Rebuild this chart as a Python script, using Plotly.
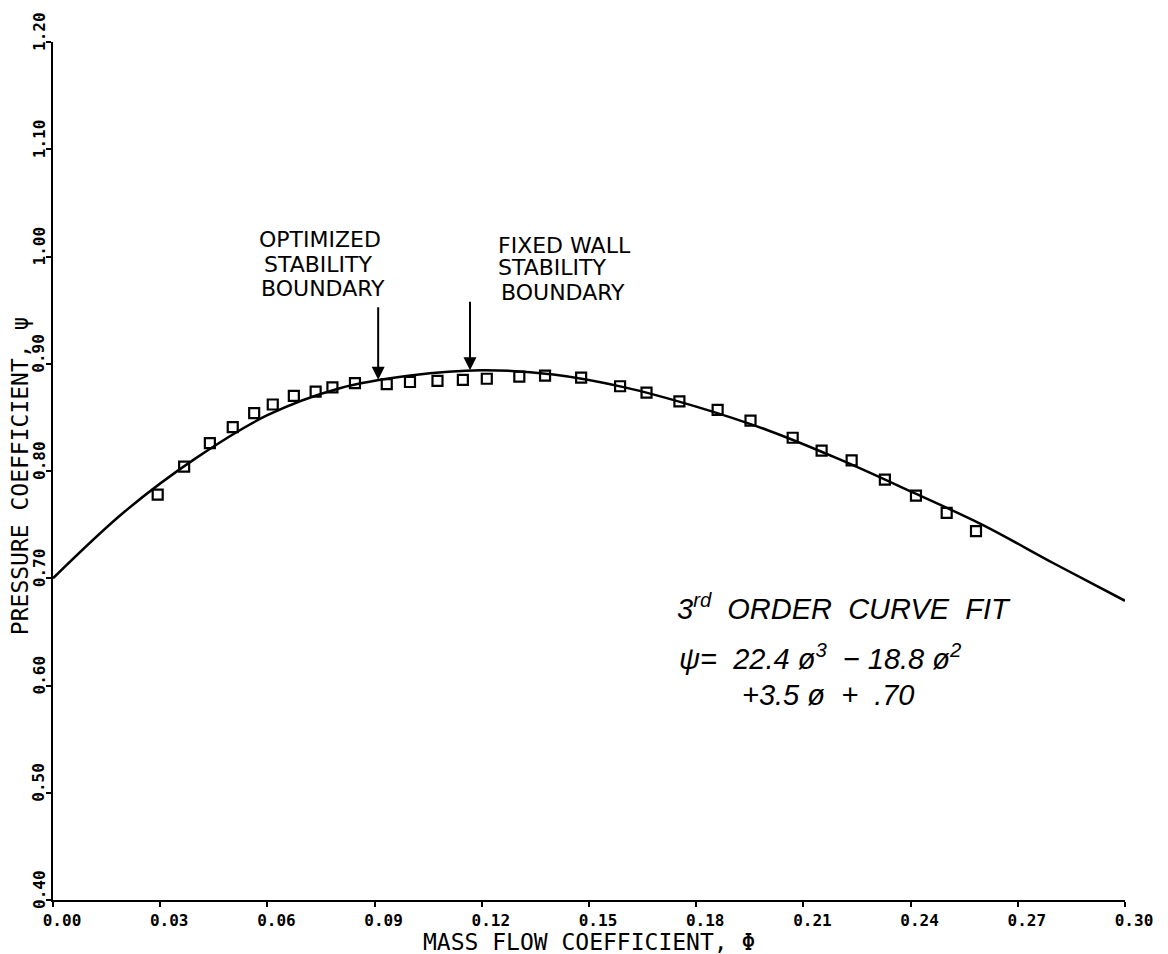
import plotly.graph_objects as go

# ---- data ----
# fitted curve (as drawn)
curve_phi = [0.00, 0.02, 0.04, 0.06, 0.08, 0.10, 0.12, 0.14, 0.16, 0.18,
             0.20, 0.22, 0.24, 0.26, 0.28, 0.30]
curve_psi = [0.700, 0.762, 0.812, 0.852, 0.877, 0.889, 0.894, 0.890, 0.878, 0.860,
             0.838, 0.811, 0.781, 0.750, 0.714, 0.679]

# measured points
data_phi = [0.0293, 0.0367, 0.0439, 0.0503, 0.0563, 0.0615, 0.0674, 0.0735, 0.0782, 0.0845,
            0.0934, 0.0999, 0.1076, 0.1147, 0.1214, 0.1305, 0.1377, 0.1478, 0.1587, 0.1661,
            0.1753, 0.1860, 0.1952, 0.2070, 0.2151, 0.2235, 0.2328, 0.2415, 0.2501, 0.2583]
data_psi = [0.778, 0.804, 0.826, 0.841, 0.854, 0.862, 0.870, 0.874, 0.878, 0.882,
            0.881, 0.883, 0.884, 0.885, 0.886, 0.888, 0.889, 0.887, 0.879, 0.873,
            0.865, 0.857, 0.847, 0.831, 0.819, 0.810, 0.792, 0.777, 0.761, 0.744]

x_ticks = [0.00, 0.03, 0.06, 0.09, 0.12, 0.15, 0.18, 0.21, 0.24, 0.27, 0.30]
y_ticks = [0.40, 0.50, 0.60, 0.70, 0.80, 0.90, 1.00, 1.10, 1.20]

x_title = "MASS FLOW COEFFICIENT, Φ"
y_title = "PRESSURE COEFFICIENT, ψ"

# stability boundary arrows (phi, psi at arrow tip)
optimized_boundary = (0.0910, 0.885)
fixed_wall_boundary = (0.1167, 0.894)

optimized_lines = ["OPTIMIZED", "STABILITY", "BOUNDARY"]
fixed_wall_lines = ["FIXED WALL", "STABILITY", "BOUNDARY"]
fit_lines = ["<i>3<sup>rd</sup>  ORDER  CURVE  FIT</i>",
             "<i>ψ=  22.4 ø<sup>3</sup>  − 18.8 ø<sup>2</sup></i>",
             "<i>+3.5 ø  +  .70</i>"]

MONO = "DejaVu Sans Mono"
HAND = "DejaVu Sans"

fig = go.Figure()
fig.add_trace(go.Scatter(x=curve_phi, y=curve_psi, mode="lines",
                         line=dict(color="black", width=2.5, shape="spline"),
                         showlegend=False, hoverinfo="skip"))
fig.add_trace(go.Scatter(x=data_phi, y=data_psi, mode="markers",
                         marker=dict(symbol="square-open", size=10, color="black",
                                     line=dict(color="black", width=2.2)),
                         showlegend=False))

annos = []
# arrows
for (px, py), tail in [(optimized_boundary, 74), (fixed_wall_boundary, 70)]:
    annos.append(dict(x=px, y=py, xref="x", yref="y", text="", showarrow=True,
                      arrowhead=2, arrowsize=1.3, arrowwidth=2, arrowcolor="black",
                      ax=0, ay=-tail))

hand_font = dict(family=HAND, size=22, color="black")
for txt, xx, yy in zip(optimized_lines, [0.0747, 0.0742, 0.0756], [1.0154, 0.9930, 0.9706]):
    annos.append(dict(x=xx, y=yy, xref="x", yref="y", showarrow=False, text=txt,
                      font=hand_font, xanchor="center", yanchor="middle", borderpad=0))
for txt, xx, yy in zip(fixed_wall_lines, [0.1243, 0.1243, 0.1251], [1.0107, 0.9893, 0.9669]):
    annos.append(dict(x=xx, y=yy, xref="x", yref="y", showarrow=False, text=txt,
                      font=hand_font, xanchor="left", yanchor="middle", borderpad=0))

eq_font = dict(family="Liberation Sans", size=29, color="black")
for txt, xx, yy in zip(fit_lines, [0.1741, 0.1746, 0.1923], [0.6732, 0.6266, 0.5911]):
    annos.append(dict(x=xx, y=yy, xref="x", yref="y", showarrow=False, text=txt,
                      font=eq_font, xanchor="left", yanchor="middle"))

# y tick labels: rotated, sitting just above each tick (plotter style)
tick_font = dict(family=MONO, size=16, color="black", weight="bold")
for v in y_ticks:
    annos.append(dict(x=0, y=v, xref="paper", yref="y", showarrow=False,
                      text=f"{v:.2f}", textangle=-90, font=tick_font,
                      xanchor="center", yanchor="middle", xshift=-14, yshift=10))

title_font = dict(family=MONO, size=23, color="black")
# y axis title
annos.append(dict(x=0, y=0.494, xref="paper", yref="paper", showarrow=False,
                  text=y_title, textangle=-90, font=title_font,
                  xanchor="center", yanchor="middle", xshift=-33, borderpad=0))
# x axis title
annos.append(dict(x=0.5, y=0, xref="paper", yref="paper", showarrow=False,
                  text=x_title, font=title_font,
                  xanchor="center", yanchor="middle", yshift=-42))

fig.update_layout(
    width=1160, height=946,
    margin=dict(l=45, r=43, t=34, b=54),
    paper_bgcolor="white", plot_bgcolor="white",
    annotations=annos,
    xaxis=dict(range=[0, 0.30], showgrid=False, zeroline=False,
               showline=True, linecolor="black", linewidth=2,
               ticks="outside", ticklen=5, tickwidth=2, tickcolor="black",
               tickvals=x_ticks, ticktext=[f"{v:.2f}" for v in x_ticks],
               tickfont=tick_font,
               ticklabelshift=9, automargin=False),
    yaxis=dict(range=[0.40, 1.20], showgrid=False, zeroline=False,
               showline=True, linecolor="black", linewidth=2,
               ticks="outside", ticklen=5, tickwidth=2, tickcolor="black",
               tickvals=y_ticks, showticklabels=False,
               automargin=False),
)

fig.write_html("out.html")
